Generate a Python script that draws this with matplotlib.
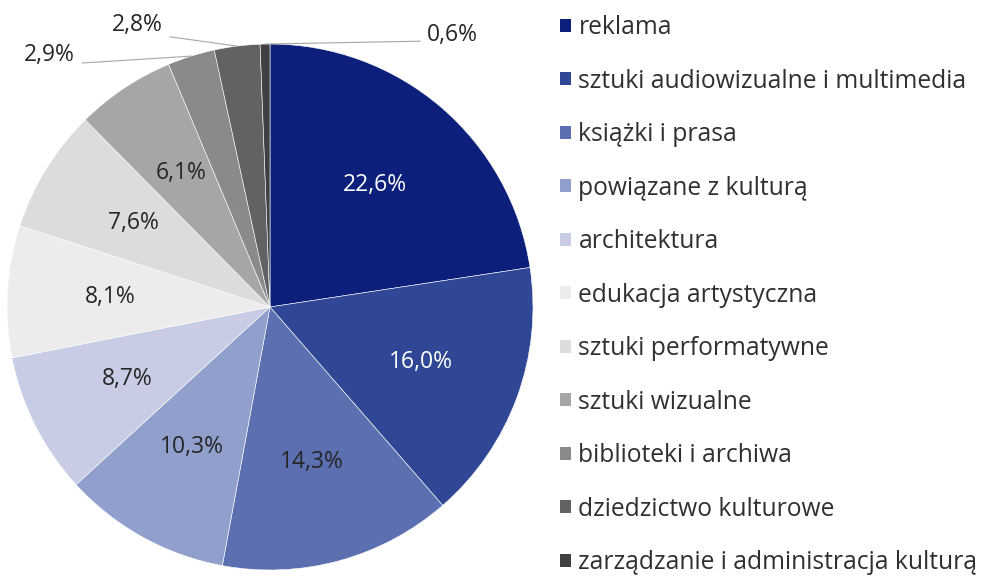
import numpy as np
import matplotlib
matplotlib.use("Agg")
import matplotlib.pyplot as plt
from matplotlib.patches import Patch

categories = ["reklama", "sztuki audiowizualne i multimedia", "książki i prasa",
              "powiązane z kulturą", "architektura", "edukacja artystyczna",
              "sztuki performatywne", "sztuki wizualne", "biblioteki i archiwa",
              "dziedzictwo kulturowe", "zarządzanie i administracja kulturą"]
values = [22.6, 16.0, 14.3, 10.3, 8.7, 8.1, 7.6, 6.1, 2.9, 2.8, 0.6]
labels = ["22,6%", "16,0%", "14,3%", "10,3%", "8,7%", "8,1%", "7,6%", "6,1%",
          "2,9%", "2,8%", "0,6%"]
colors = ["#0c1f7a", "#2f4794", "#5b6fb1", "#909fcb", "#c8cde5", "#ececec",
          "#dcdcdc", "#a6a6a6", "#8a8a8a", "#626262", "#404040"]
text_colors = ["white", "white", "#262626", "#262626", "#262626", "#262626",
               "#262626", "#262626", "#262626", "#262626", "#262626"]

plt.rcParams['font.family'] = ['Open Sans', 'DejaVu Sans']

fig = plt.figure(figsize=(9.82, 5.82), dpi=100)
cx, cy, R = 270, 307, 263
W, H = 982, 582
ax = fig.add_axes([(cx - R) / W, (H - cy - R) / H, 2 * R / W, 2 * R / H])
wedges, _ = ax.pie(values, colors=colors, startangle=90, counterclock=False,
                   radius=1, wedgeprops=dict(edgecolor="white", linewidth=0.4))
ax.set_xlim(-1, 1)
ax.set_ylim(-1, 1)
ax.set_aspect("equal")
ax.axis("off")

fs = 16.5
# outside label positions (data coords) and line attachment points on the text
outside = {8: ((-0.741, 0.958), "right", (1.0, 0.15)),
           9: ((-0.407, 1.072), "right", (1.0, 0.05)),
           10: ((0.597, 1.034), "left", (0.0, 0.25))}
for i, w in enumerate(wedges):
    ang = np.deg2rad((w.theta1 + w.theta2) / 2)
    if i in outside:
        ex, ey = np.cos(ang), np.sin(ang)
        (tx, ty), ha, rp = outside[i]
        ax.annotate(labels[i], xy=(ex, ey), xytext=(tx, ty), ha=ha, va="center",
                    fontsize=fs, color=text_colors[i], annotation_clip=False,
                    arrowprops=dict(arrowstyle="-", color="#a6a6a6", lw=0.8,
                                    shrinkA=3, shrinkB=0, relpos=rp))
    else:
        d = 0.61
        ax.text(d * np.cos(ang), d * np.sin(ang), labels[i], ha="center",
                va="center", fontsize=fs, color=text_colors[i])

handles = [Patch(facecolor=c, edgecolor="none") for c in colors]
fig.legend(handles, categories, loc="upper left", bbox_to_anchor=(560 / W, 1 - 15 / H),
           frameon=False, fontsize=17.7, handlelength=0.45, handleheight=0.45,
           handletextpad=0.3, labelspacing=1.16, labelcolor="#303030",
           borderaxespad=0, borderpad=0)

fig.savefig("out.png", dpi=100)
